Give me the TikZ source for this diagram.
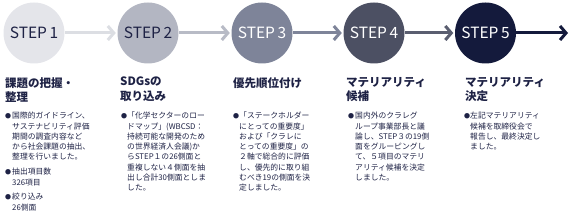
\documentclass[tikz,border=0pt]{standalone}
\usepackage{fontspec}
\setmainfont{Noto Sans CJK JP}
\usetikzlibrary{arrows.meta}
\definecolor{navy}{HTML}{141A3C}
\definecolor{txt}{HTML}{1E2245}
\definecolor{c1}{HTML}{E4E5EA}
\definecolor{c2}{HTML}{B3B6C2}
\definecolor{c3}{HTML}{7E8499}
\definecolor{c4}{HTML}{4C5063}
\definecolor{a1}{HTML}{DCDEE3}
\definecolor{a2}{HTML}{B8BBC6}
\definecolor{a3}{HTML}{7E8499}
\definecolor{a4}{HTML}{5A5E70}
\tikzset{
  stepcircle/.style={circle, minimum size=61pt, inner sep=0pt, font=\fontsize{15.5}{15.5}\selectfont},
  flow/.style={line width=3pt, shorten >=1.5pt, -{Straight Barb[length=6pt,width=14pt]}},
  titletext/.style={anchor=north west, inner sep=0pt, align=left, text=txt, font=\fontsize{11.5}{14.5}\selectfont\bfseries},
  bodytext/.style={anchor=north west, inner sep=0pt, align=left, text=txt, font=\fontsize{7.8}{10.3}\selectfont},
  bulletmark/.style={anchor=north west, inner sep=0pt, text=txt, font=\fontsize{6}{10.3}\selectfont}
}
\begin{document}
\begin{tikzpicture}[x=1pt,y=1pt]
\useasboundingbox (0,0) rectangle (583,219);
% circles
\node[stepcircle, fill=c1, text=txt] (s1) at (34,186) {STEP\,1};
\node[stepcircle, fill=c2, text=txt] (s2) at (148,186) {STEP\,2};
\node[stepcircle, fill=c3, text=white] (s3) at (262,186) {STEP\,3};
\node[stepcircle, fill=c4, text=white] (s4) at (374,186) {STEP\,4};
\node[stepcircle, fill=navy, text=white] (s5) at (485.5,186) {STEP\,5};
\coordinate (end) at (568,186);
% arrows
\draw[flow, a1] (s1) -- (s2);
\draw[flow, a2] (s2) -- (s3);
\draw[flow, a3] (s3) -- (s4);
\draw[flow, a4] (s4) -- (s5);
\draw[flow, navy, shorten >=0pt] (s5) -- (end);
% titles
\node[titletext] (t1) at (5,142) {課題の把握・\\整理};
\node[titletext] (t2) at (120,142) {SDGsの\\取り込み};
\node[titletext] (t3) at (233,142) {優先順位付け};
\node[titletext] (t4) at (346,142) {マテリアリティ\\候補};
\node[titletext] (t5) at (465,142) {マテリアリティ\\決定};
% bullets
\node[bulletmark] (b1) at (5,106) {●};
\node[bodytext] (p1) at (12,107) {国際的ガイドライン、\\サステナビリティ評価\\期間の調査内容など\\から社会課題の抽出、\\整理を行いました。};
\node[bulletmark] (b1b) at (5,50) {●};
\node[bodytext] (p1b) at (12,51) {抽出項目数\\326項目};
\node[bulletmark] (b1c) at (5,25) {●};
\node[bodytext] (p1c) at (12,26) {絞り込み\\26側面};
\node[bulletmark] (b2) at (121,106) {●};
\node[bodytext] (p2) at (127,107) {「化学セクターのロー\\ドマップ」(WBCSD：\\持続可能な開発のため\\の世界経済人会議)か\\らSTEP１の26側面と\\重複しない４側面を抽\\出し合計30側面としま\\した。};
\node[bulletmark] (b3) at (233,106) {●};
\node[bodytext] (p3) at (239,107) {「ステークホルダー\\にとっての重要度」\\および「クラレに\\とっての重要度」の\\２軸で総合的に評価\\し、優先的に取り組\\むべき19の側面を決\\定しました。};
\node[bulletmark] (b4) at (348,106) {●};
\node[bodytext] (p4) at (355,107) {国内外のクラレグ\\ループ事業部長と議\\論し、STEP３の19側\\面をグルーピングし\\て、５項目のマテリ\\アリティ候補を決定\\しました。};
\node[bulletmark] (b5) at (464,106) {●};
\node[bodytext] (p5) at (470,107) {左記マテリアリティ\\候補を取締役会で\\報告し、最終決定し\\ました。};
\end{tikzpicture}
\end{document}
